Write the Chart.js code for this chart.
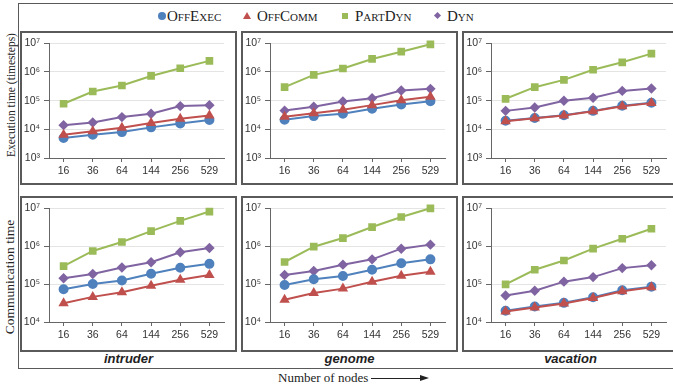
<!DOCTYPE html>
<html>
<head>
<meta charset="utf-8">
<script src="https://cdn.jsdelivr.net/npm/chart.js@4"></script>
<style>
  body { margin: 0; width: 673px; height: 388px; overflow: hidden; background: #fff; position: relative; font-family: 'Liberation Serif', serif; color: #222; }
  .frame { position: absolute; left: 18px; top: 3px; width: 700px; height: 366px; border: 1px solid #595959; box-sizing: border-box; }
  .panel { position: absolute; width: 217px; border: 2px solid #5a5a5a; box-sizing: border-box; background: #fff; }
  .panel canvas { display: block; }
  .title { position: absolute; width: 217px; text-align: center; font: italic bold 13px 'Liberation Sans', Arial, sans-serif; line-height: 16px; }
  .ylab { position: absolute; white-space: nowrap; transform: translate(-50%, -50%) rotate(-90deg); }
  .leg { position: absolute; top: 7px; font-size: 15px; line-height: 18px; font-variant: small-caps; white-space: nowrap; }
  .mk { position: absolute; }
</style>
</head>
<body>
<div class="frame"></div>

<!-- legend -->
<div class="mk" style="left:158px;top:12px;width:8px;height:8px;border-radius:50%;background:#4F81BD"></div>
<div class="leg" style="left:167px">OffExec</div>
<div class="mk" style="left:243px;top:12px;width:0;height:0;border-left:4px solid transparent;border-right:4px solid transparent;border-bottom:7px solid #C0504D"></div>
<div class="leg" style="left:257px">OffComm</div>
<div class="mk" style="left:342px;top:13px;width:6px;height:6px;background:#9BBB59"></div>
<div class="leg" style="left:355px">PartDyn</div>
<div class="mk" style="left:435px;top:13px;width:5px;height:5px;background:#8064A2;transform:rotate(45deg)"></div>
<div class="leg" style="left:447px">Dyn</div>

<div class="ylab" style="left:11px;top:95px;font-size:11.5px">Execution time (timesteps)</div>
<div class="ylab" style="left:10px;top:277px;font-size:13.5px">Communication time</div>

<div class="panel" style="left:20px;top:31px;height:154px"><canvas id="c1" width="213" height="150"></canvas></div>
<div class="panel" style="left:241px;top:31px;height:154px"><canvas id="c2" width="213" height="150"></canvas></div>
<div class="panel" style="left:462px;top:31px;height:154px"><canvas id="c3" width="213" height="150"></canvas></div>
<div class="panel" style="left:20px;top:196px;height:156px"><canvas id="c4" width="213" height="152"></canvas></div>
<div class="panel" style="left:241px;top:196px;height:156px"><canvas id="c5" width="213" height="152"></canvas></div>
<div class="panel" style="left:462px;top:196px;height:156px"><canvas id="c6" width="213" height="152"></canvas></div>

<div class="title" style="left:20px;top:351px">intruder</div>
<div class="title" style="left:241px;top:351px">genome</div>
<div class="title" style="left:462px;top:351px">vacation</div>

<div style="position:absolute;left:278px;top:370px;font-size:13px;line-height:16px">Number of nodes</div>
<div style="position:absolute;left:371px;top:378px;width:50px;border-top:1px solid #222"></div>
<div style="position:absolute;left:420px;top:375px;width:0;height:0;border-top:3.5px solid transparent;border-bottom:3.5px solid transparent;border-left:9px solid #222"></div>

<script>
const nodes = ['16', '36', '64', '144', '256', '529'];
const seriesNames = ['OffExec', 'OffComm', 'PartDyn', 'Dyn'];
const execTicks = [1e3, 1e4, 1e5, 1e6, 1e7];
const commTicks = [1e4, 1e5, 1e6, 1e7];

// execution time (timesteps)
const intruderExecOffExec = [5000, 6500, 8000, 11700, 16000, 21000];
const intruderExecOffComm = [6500, 8500, 11400, 16500, 23400, 30500];
const intruderExecPartDyn = [78000, 209000, 338000, 728000, 1350000, 2440000];
const intruderExecDyn = [14000, 17400, 26700, 34800, 64500, 69800];

const genomeExecOffExec = [21500, 28900, 34900, 52000, 73600, 96000];
const genomeExecOffComm = [27400, 36700, 48000, 69800, 104000, 136000];
const genomeExecPartDyn = [295000, 794000, 1320000, 2850000, 5100000, 9200000];
const genomeExecDyn = [45000, 61000, 93000, 122000, 225000, 258000];

const vacationExecOffExec = [19900, 25000, 31000, 44000, 66000, 84000];
const vacationExecOffComm = [19000, 24500, 30500, 43000, 64000, 82000];
const vacationExecPartDyn = [116000, 295000, 529000, 1200000, 2170000, 4370000];
const vacationExecDyn = [44000, 58000, 98700, 126000, 219000, 265000];

// communication time
const intruderCommOffExec = [73000, 101000, 125000, 187000, 270000, 342000];
const intruderCommOffComm = [31400, 46000, 61000, 91000, 131000, 173000];
const intruderCommPartDyn = [297000, 748000, 1290000, 2500000, 4660000, 8200000];
const intruderCommDyn = [142000, 184000, 275000, 378000, 692000, 898000];

const genomeCommOffExec = [94600, 134000, 164000, 240000, 353000, 450000];
const genomeCommOffComm = [38800, 58000, 76000, 116000, 167000, 213000];
const genomeCommPartDyn = [383000, 972000, 1640000, 3200000, 5900000, 10000000];
const genomeCommDyn = [174000, 222000, 326000, 450000, 861000, 1100000];

const vacationCommOffExec = [19800, 25700, 32000, 45000, 68700, 85700];
const vacationCommOffComm = [19000, 24200, 30900, 43000, 64600, 82000];
const vacationCommPartDyn = [98600, 239000, 420000, 861000, 1570000, 2880000];
const vacationCommDyn = [49800, 67000, 116000, 153000, 264000, 316000];

const colors = ['#4F81BD', '#C0504D', '#9BBB59', '#8064A2'];
const shapes = ['circle', 'triangle', 'rect', 'rectRot'];
const radii = [4, 4, 4, 3.8];
const drawOrder = [1, 0, 2, 3]; // red drawn over blue
const sup = { 3: '\u00B3', 4: '\u2074', 5: '\u2075', 6: '\u2076', 7: '\u2077' };

function makeChart(id, data, decades, padTop, xHeight) {
    new Chart(document.getElementById(id), {
        type: 'line',
        data: {
            labels: nodes,
            datasets: data.map((d, i) => ({
                label: seriesNames[i],
                data: d,
                borderColor: colors[i],
                backgroundColor: colors[i],
                pointBackgroundColor: colors[i],
                pointBorderColor: colors[i],
                pointStyle: shapes[i],
                pointRadius: radii[i],
                borderWidth: 2,
                order: drawOrder[i],
                clip: false
            }))
        },
        options: {
            responsive: false,
            animation: false,
            layout: { padding: { top: padTop, right: 11, left: 0, bottom: 0 } },
            plugins: { legend: { display: false }, tooltip: { enabled: false } },
            scales: {
                x: {
                    offset: true,
                    grid: { drawOnChartArea: false, tickLength: 4, tickColor: '#666' },
                    border: { color: '#666' },
                    ticks: { color: '#333', padding: 3, maxRotation: 0, font: { family: 'Liberation Sans', size: 10.5 } },
                    afterFit: s => { s.height = xHeight; }
                },
                y: {
                    type: 'logarithmic',
                    min: decades[0],
                    max: decades[decades.length - 1],
                    afterBuildTicks: s => { s.ticks = decades.map(v => ({ value: v })); },
                    grid: { color: '#e4e4e4', tickColor: '#666', tickLength: 5 },
                    border: { color: '#666' },
                    ticks: {
                        color: '#333', padding: 4, font: { family: 'Liberation Sans', size: 10.5 },
                        callback: v => '10' + sup[Math.round(Math.log10(v))]
                    },
                    afterFit: s => { s.width = 27; }
                }
            }
        }
    });
}

makeChart('c1', [intruderExecOffExec, intruderExecOffComm, intruderExecPartDyn, intruderExecDyn], execTicks, 10, 25);
makeChart('c2', [genomeExecOffExec, genomeExecOffComm, genomeExecPartDyn, genomeExecDyn], execTicks, 10, 25);
makeChart('c3', [vacationExecOffExec, vacationExecOffComm, vacationExecPartDyn, vacationExecDyn], execTicks, 10, 25);
makeChart('c4', [intruderCommOffExec, intruderCommOffComm, intruderCommPartDyn, intruderCommDyn], commTicks, 9, 28);
makeChart('c5', [genomeCommOffExec, genomeCommOffComm, genomeCommPartDyn, genomeCommDyn], commTicks, 9, 28);
makeChart('c6', [vacationCommOffExec, vacationCommOffComm, vacationCommPartDyn, vacationCommDyn], commTicks, 9, 28);
</script>
</body>
</html>
